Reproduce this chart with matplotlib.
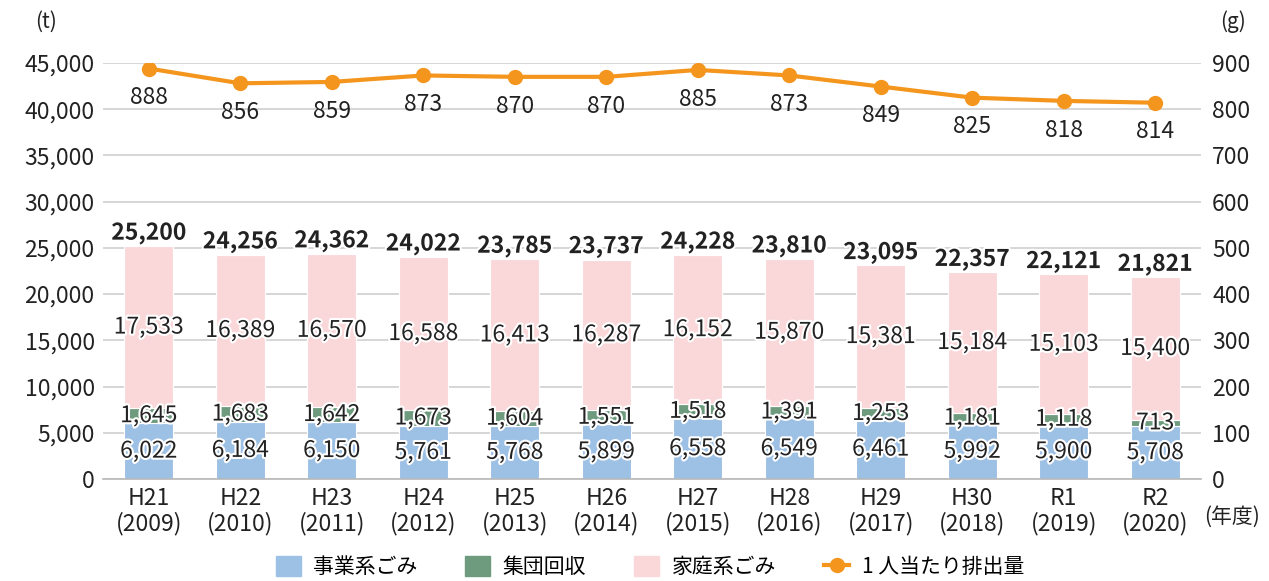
import matplotlib
matplotlib.use('Agg')
import matplotlib.pyplot as plt
import matplotlib.patheffects as pe
from matplotlib.lines import Line2D
from matplotlib.patches import Patch
import numpy as np

plt.rcParams['font.family'] = ['Noto Sans CJK JP', 'DejaVu Sans']

# data
years = ['H21\n(2009)', 'H22\n(2010)', 'H23\n(2011)', 'H24\n(2012)', 'H25\n(2013)', 'H26\n(2014)',
         'H27\n(2015)', 'H28\n(2016)', 'H29\n(2017)', 'H30\n(2018)', 'R1\n(2019)', 'R2\n(2020)']
business = [6022, 6184, 6150, 5761, 5768, 5899, 6558, 6549, 6461, 5992, 5900, 5708]
group = [1645, 1683, 1642, 1673, 1604, 1551, 1518, 1391, 1253, 1181, 1118, 713]
household = [17533, 16389, 16570, 16588, 16413, 16287, 16152, 15870, 15381, 15184, 15103, 15400]
totals = [25200, 24256, 24362, 24022, 23785, 23737, 24228, 23810, 23095, 22357, 22121, 21821]
per_person = [888, 856, 859, 873, 870, 870, 885, 873, 849, 825, 818, 814]

C_BUS = '#9dc0e5'
C_GRP = '#6e9b7e'
C_HOME = '#fad8da'
C_LINE = '#f4961e'
TXT = '#222222'

fig = plt.figure(figsize=(12.69, 5.81), dpi=100)
ax = fig.add_axes([0.0812, 0.1756, 0.8652, 0.716])
ax2 = ax.twinx()

x = np.arange(len(years))
w = 0.535
halo = [pe.withStroke(linewidth=3, foreground='white')]

b_bot = np.array(business)
g_bot = b_bot + np.array(group)
ax.bar(x, business, w, color=C_BUS, edgecolor='white', linewidth=0.8, zorder=2)
ax.bar(x, group, w, bottom=b_bot, color=C_GRP, edgecolor='white', linewidth=0.8, zorder=2)
ax.bar(x, household, w, bottom=g_bot, color=C_HOME, edgecolor='white', linewidth=0.8, zorder=2)

fs = 16.5
for i in range(len(x)):
    ax.text(x[i], business[i] / 2, f'{business[i]:,}', ha='center', va='center',
            fontsize=fs, color=TXT, path_effects=halo, zorder=4)
    ax.text(x[i], b_bot[i] + group[i] / 2, f'{group[i]:,}', ha='center', va='center',
            fontsize=fs, color=TXT, path_effects=halo, zorder=4)
    ax.text(x[i], g_bot[i] + household[i] / 2, f'{household[i]:,}', ha='center', va='center',
            fontsize=fs, color=TXT, path_effects=halo, zorder=4)
    ax.text(x[i], totals[i] + 150, f'{totals[i]:,}', ha='center', va='bottom',
            fontsize=fs, fontweight='bold', color=TXT, path_effects=halo, zorder=4)

ax.set_ylim(0, 45000)
ax.set_xlim(-0.5, 11.5)
ax.set_yticks(range(0, 45001, 5000))
ax.set_yticklabels([f'{v:,}' for v in range(0, 45001, 5000)])
ax.set_xticks(x)
ax.set_xticklabels(years, linespacing=1.1)
ax.grid(axis='y', color='#d0d0d0', linewidth=1.2, zorder=0)
ax.set_axisbelow(True)
for s in ['top', 'left', 'right']:
    ax.spines[s].set_visible(False)
ax.spines['bottom'].set_color('#b8b8b8')
ax.spines['bottom'].set_linewidth(1.2)
ax.tick_params(axis='both', length=0, labelsize=fs, colors=TXT, pad=6)

ax2.plot(x, per_person, color=C_LINE, linewidth=3, marker='o', markersize=10, zorder=5)
for i in range(len(x)):
    ax2.annotate(str(per_person[i]), (x[i], per_person[i]), xytext=(0, -21),
                 textcoords='offset points', ha='center', va='center', fontsize=fs, color=TXT)
ax2.set_ylim(0, 900)
ax2.set_yticks(range(0, 901, 100))
for s in ['top', 'left', 'right', 'bottom']:
    ax2.spines[s].set_visible(False)
ax2.tick_params(axis='y', length=0, labelsize=fs, colors=TXT, pad=8)

fig.text(0.036, 0.962, '(t)', fontsize=15, color=TXT, ha='center', va='center')
fig.text(0.972, 0.962, '(g)', fontsize=15, color=TXT, ha='center', va='center')
fig.text(0.971, 0.11, '(年度)', fontsize=15, color=TXT, ha='center', va='center')

handles = [Patch(color=C_BUS, label='事業系ごみ'),
           Patch(color=C_GRP, label='集団回収'),
           Patch(color=C_HOME, label='家庭系ごみ'),
           Line2D([], [], color=C_LINE, linewidth=3, marker='o', markersize=10, label='1 人当たり排出量')]
fig.legend(handles=handles, loc='center', bbox_to_anchor=(0.512, 0.024), ncol=4, frameon=False,
           fontsize=15, handlelength=1.2, handleheight=1.1, columnspacing=2.3, handletextpad=0.6)

fig.savefig('out.png', dpi=100)
